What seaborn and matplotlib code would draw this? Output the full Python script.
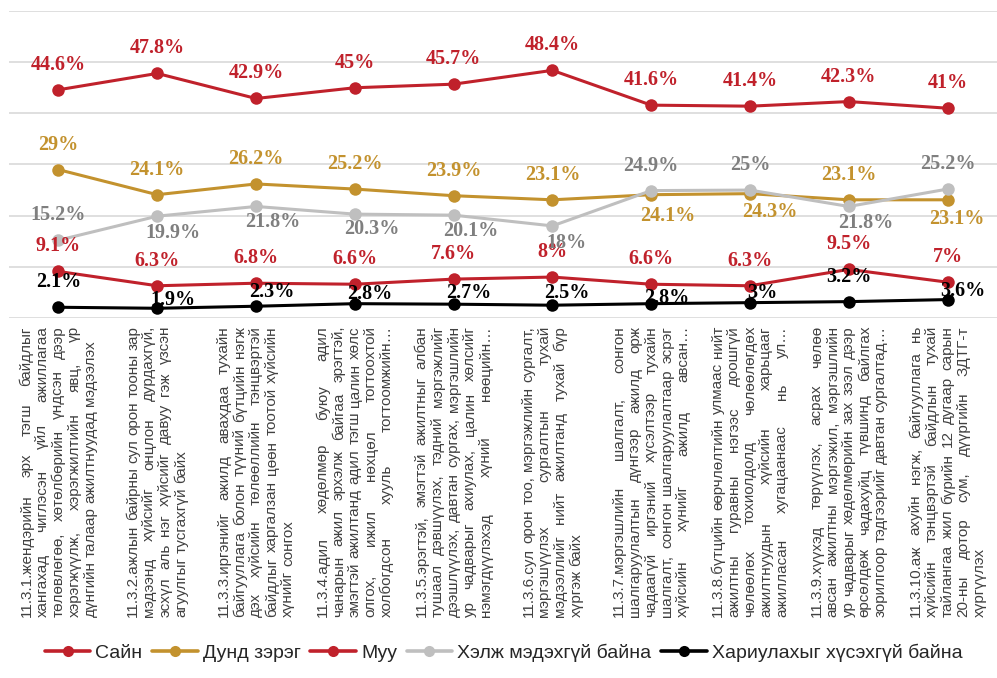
import matplotlib
matplotlib.use("Agg")
import numpy as np
import pandas as pd
import matplotlib.pyplot as plt
import seaborn as sns
from matplotlib.lines import Line2D
from matplotlib.font_manager import FontProperties
from matplotlib.transforms import IdentityTransform

W, H = 997, 678

# category labels, one list of lines per category (as wrapped in the source chart)
CATEGORY_LINES = [
    ["11.3.1.жендэрийн эрх тэгш байдлыг",
     "хангахад чиглэсэн үйл ажиллагаа",
     "төлөвлөгөө, хөтөлбөрийн үндсэн дээр",
     "хэрэгжүүлж, хэрэгжилтийн явц, үр",
     "дүнгийн талаар ажилтнуудад мэдээлэх"],
    ["11.3.2.ажлын байрны сул орон тооны зар",
     "мэдээнд хүйсийг онцлон дурдахгүй,",
     "эсхүл аль нэг хүйсийг давуу гэж үзсэн",
     "агуулгыг тусгахгүй байх"],
    ["11.3.3.иргэнийг ажилд авахдаа тухайн",
     "байгууллага болон түүний бүтцийн нэгж",
     "дэх хүйсийн төлөөллийн тэнцвэртэй",
     "байдлыг харгалзан цөөн тоотой хүйсийн",
     "хүнийг сонгох"],
    ["11.3.4.адил хөдөлмөр буюу адил",
     "чанарын ажил эрхэлж байгаа эрэгтэй,",
     "эмэгтэй ажилтанд адил тэгш цалин хөлс",
     "олгох, ижил нөхцөл тогтоохтой",
     "холбогдсон хууль тогтоомжийн…"],
    ["11.3.5.эрэгтэй, эмэгтэй ажилтныг албан",
     "тушаал дэвшүүлэх, тэдний мэргэжлийг",
     "дээшлүүлэх, давтан сургах, мэргэшлийн",
     "ур чадварыг ахиулах, цалин хөлсийг",
     "нэмэгдүүлэхэд хүний нөөцийн…"],
    ["11.3.6.сул орон тоо, мэргэжлийн сургалт,",
     "мэргэшүүлэх сургалтын тухай",
     "мэдээллийг нийт ажилтанд тухай бүр",
     "хүргэж байх"],
    ["11.3.7.мэргэшлийн шалгалт, сонгон",
     "шалгаруулалтын дүнгээр ажилд орж",
     "чадаагүй иргэний хүсэлтээр тухайн",
     "шалгалт, сонгон шалгаруулалтаар эсрэг",
     "хүйсийн хүнийг ажилд авсан…"],
    ["11.3.8.бүтцийн өөрчлөлтийн улмаас нийт",
     "ажилтны гуравны нэгээс доошгүй",
     "чөлөөлөх тохиолдолд чөлөөлөгдөх",
     "ажилтнуудын хүйсийн харьцааг",
     "ажилласан хугацаанаас нь ул…"],
    ["11.3.9.хүүхэд төрүүлэх, асрах чөлөө",
     "авсан ажилтны мэргэжил, мэргэшлийн",
     "ур чадварыг хөдөлмөрийн зах зээл дээр",
     "өрсөлдөж чадахуйц түвшинд байлгах",
     "зорилгоор тэдгээрийг давтан сургалтад…"],
    ["11.3.10.аж ахуйн нэгж, байгууллага нь",
     "хүйсийн тэнцвэртэй байдлын тухай",
     "тайлангаа жил бүрийн 12 дугаар сарын",
     "20-ны дотор сум, дүүргийн ЗДТГ-т",
     "хүргүүлэх"],
]

SERIES = ["Сайн", "Дунд зэрэг", "Муу", "Хэлж мэдэхгүй байна", "Хариулахыг хүсэхгүй байна"]
SAIN = [44.6, 47.8, 42.9, 45, 45.7, 48.4, 41.6, 41.4, 42.3, 41]
DUND = [29, 24.1, 26.2, 25.2, 23.9, 23.1, 24.1, 24.3, 23.1, 23.1]
MUU = [9.1, 6.3, 6.8, 6.6, 7.6, 8, 6.6, 6.3, 9.5, 7]
MEDEHGUI = [15.2, 19.9, 21.8, 20.3, 20.1, 18, 24.9, 25, 21.8, 25.2]
HARIULAHGUI = [2.1, 1.9, 2.3, 2.8, 2.7, 2.5, 2.8, 3, 3.2, 3.6]
VALUES = [SAIN, DUND, MUU, MEDEHGUI, HARIULAHGUI]

LINE_COLORS = ["#C0212B", "#C3922E", "#C0212B", "#BFBFBF", "#000000"]
LABEL_COLORS = ["#C0212B", "#C3922E", "#C0212B", "#7F7F7F", "#000000"]

# data label offsets from the point, in pixels (dx, dy up)
UP = (0, 25)
LABEL_OFFSETS = [
    [UP] * 10,
    [UP, UP, UP, UP, UP, UP, (17, -21), (20, -18), UP, (9, -19)],
    [UP] * 10,
    [UP, (16, -17), (17, -16), (17, -15), (17, -16), (14, -17), UP, UP, (17, -17), UP],
    [UP, (16, 8), (16, 14), (15, 10), (15, 11), (14, 12), (16, 6), (12, 10), UP, (15, 9)],
]

sns.set_theme(style="white")
plt.rcParams["font.family"] = ["Liberation Sans", "DejaVu Sans"]

rows = []
for name, vals in zip(SERIES, VALUES):
    for i, v in enumerate(vals):
        rows.append({"pos": i, "value": v, "series": name})
df = pd.DataFrame(rows)

fig = plt.figure(figsize=(W / 100, H / 100), dpi=100)
ax = fig.add_axes([9 / W, (H - 318) / H, (W - 9) / W, (318 - 11) / H])

for y in range(0, 61, 10):
    ax.axhline(y, color="#D9D9D9", linewidth=1.2, zorder=0)

sns.lineplot(data=df, x="pos", y="value", hue="series", hue_order=SERIES,
             palette=dict(zip(SERIES, LINE_COLORS)), marker="o", markersize=9,
             markeredgewidth=0, linewidth=2.2, legend=False, ax=ax,
             estimator=None, sort=False)

ax.set_xlim(-0.5, 9.5)
ax.set_ylim(0, 60)
ax.set_xticks([])
ax.set_yticks([])
ax.set_xlabel("")
ax.set_ylabel("")
for s in ax.spines.values():
    s.set_visible(False)

for vals, color, offsets in zip(VALUES, LABEL_COLORS, LABEL_OFFSETS):
    for i, v in enumerate(vals):
        ax.annotate(f"{v:g}%", (i, v), xytext=offsets[i], textcoords="offset pixels",
                    ha="center", va="center", color=color, fontsize=14.5,
                    fontweight="bold", family="Liberation Serif", zorder=10)

# rotated, justified category labels below the axis
label_font = FontProperties(family="Liberation Sans", size=11)
renderer = fig.canvas.get_renderer()
TEXT_START = H - 617  # display y where each label line begins
LINE_LEN = 291
LINE_GAP = 16


def text_width(s):
    return renderer.get_text_width_height_descent(s, label_font, ismath=False)[0]


for i, lines in enumerate(CATEGORY_LINES):
    cx = ax.transData.transform((i, 0))[0]
    n = len(lines)
    for j, line in enumerate(lines):
        x = cx + (j - (n - 1) / 2) * LINE_GAP
        words = line.split()
        justify = (j < n - 1 or line.endswith("…")) and len(words) > 1
        if justify:
            gap = (LINE_LEN - sum(text_width(w) for w in words)) / (len(words) - 1)
        else:
            gap = text_width(" ")
        y = TEXT_START
        for w in words:
            fig.text(x, y, w, rotation=90, rotation_mode="anchor", ha="left",
                     va="center", fontproperties=label_font, color="#404040",
                     transform=IdentityTransform())
            y += text_width(w) + gap

handles = [Line2D([], [], color=c, marker="o", markersize=8, linewidth=2.6,
                  markeredgewidth=0) for c in LINE_COLORS]
fig.legend(handles, SERIES, loc="center", bbox_to_anchor=(0.505, 1 - 653 / H),
           ncol=5, frameon=False, handlelength=2.35, handletextpad=0.25,
           columnspacing=0.5,
           prop=FontProperties(family="Liberation Sans", size=14),
           labelcolor="#262626")

fig.savefig("out.png", dpi=100)
